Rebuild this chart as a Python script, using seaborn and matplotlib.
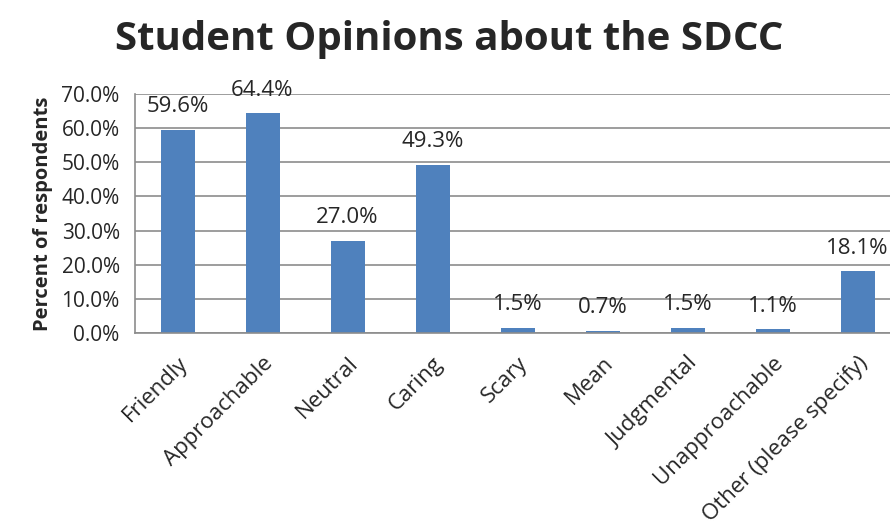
import numpy as np
import pandas as pd
import seaborn as sns
import matplotlib.pyplot as plt

categories = ['Friendly', 'Approachable', 'Neutral', 'Caring', 'Scary', 'Mean',
              'Judgmental', 'Unapproachable', 'Other (please specify)']
percents = [59.6, 64.4, 27.0, 49.3, 1.5, 0.7, 1.5, 1.1, 18.1]
y_ticks = [0, 10, 20, 30, 40, 50, 60, 70]

df = pd.DataFrame({'category': categories, 'percent': percents})

sns.set_style('white')
plt.rcParams['font.family'] = ['Open Sans', 'DejaVu Sans']

fig = plt.figure(figsize=(8.9, 5.31), dpi=100)
ax = fig.add_axes([135 / 890, 198 / 531, 765 / 890, 239 / 531])

sns.barplot(data=df, x='category', y='percent', color='#4F81BD', width=0.4,
            saturation=1, linewidth=0, ax=ax)

ax.set_ylim(0, 70)
ax.set_xlim(-0.5, len(categories) - 0.5)
ax.set_yticks(y_ticks)
ax.set_yticklabels([f'{v:.1f}%' for v in y_ticks], fontsize=15)
ax.yaxis.grid(True, color='#8C8C8C', linewidth=1.2)
ax.set_axisbelow(True)

# ticks between categories, labels at centers
ax.set_xticks(np.arange(len(categories)))
ax.set_xticklabels(categories, rotation=45, ha='right', rotation_mode='anchor', fontsize=16)
ax.set_xticks(np.arange(len(categories) + 1) - 0.5, minor=True)
ax.tick_params(axis='x', which='major', length=0, pad=14)
ax.tick_params(axis='x', which='minor', length=7, color='#8C8C8C', width=1.2)
ax.tick_params(axis='y', length=7, color='#8C8C8C', width=1.2, pad=4)

for s in ['top', 'right']:
    ax.spines[s].set_visible(False)
for s in ['left', 'bottom']:
    ax.spines[s].set_color('#8C8C8C')
    ax.spines[s].set_linewidth(1.2)

for i, v in enumerate(percents):
    ax.annotate(f'{v:.1f}%', (i, v), xytext=(0, 9), textcoords='offset points',
                ha='center', va='bottom', fontsize=16, annotation_clip=False)

ax.set_xlabel('')
ax.set_ylabel('Percent of respondents', fontsize=14.5, fontweight='bold', labelpad=6)
fig.text(0.505, 0.925, 'Student Opinions about the SDCC', ha='center', va='center',
         fontsize=29, fontweight='bold')

fig.savefig('out.png', dpi=100)
